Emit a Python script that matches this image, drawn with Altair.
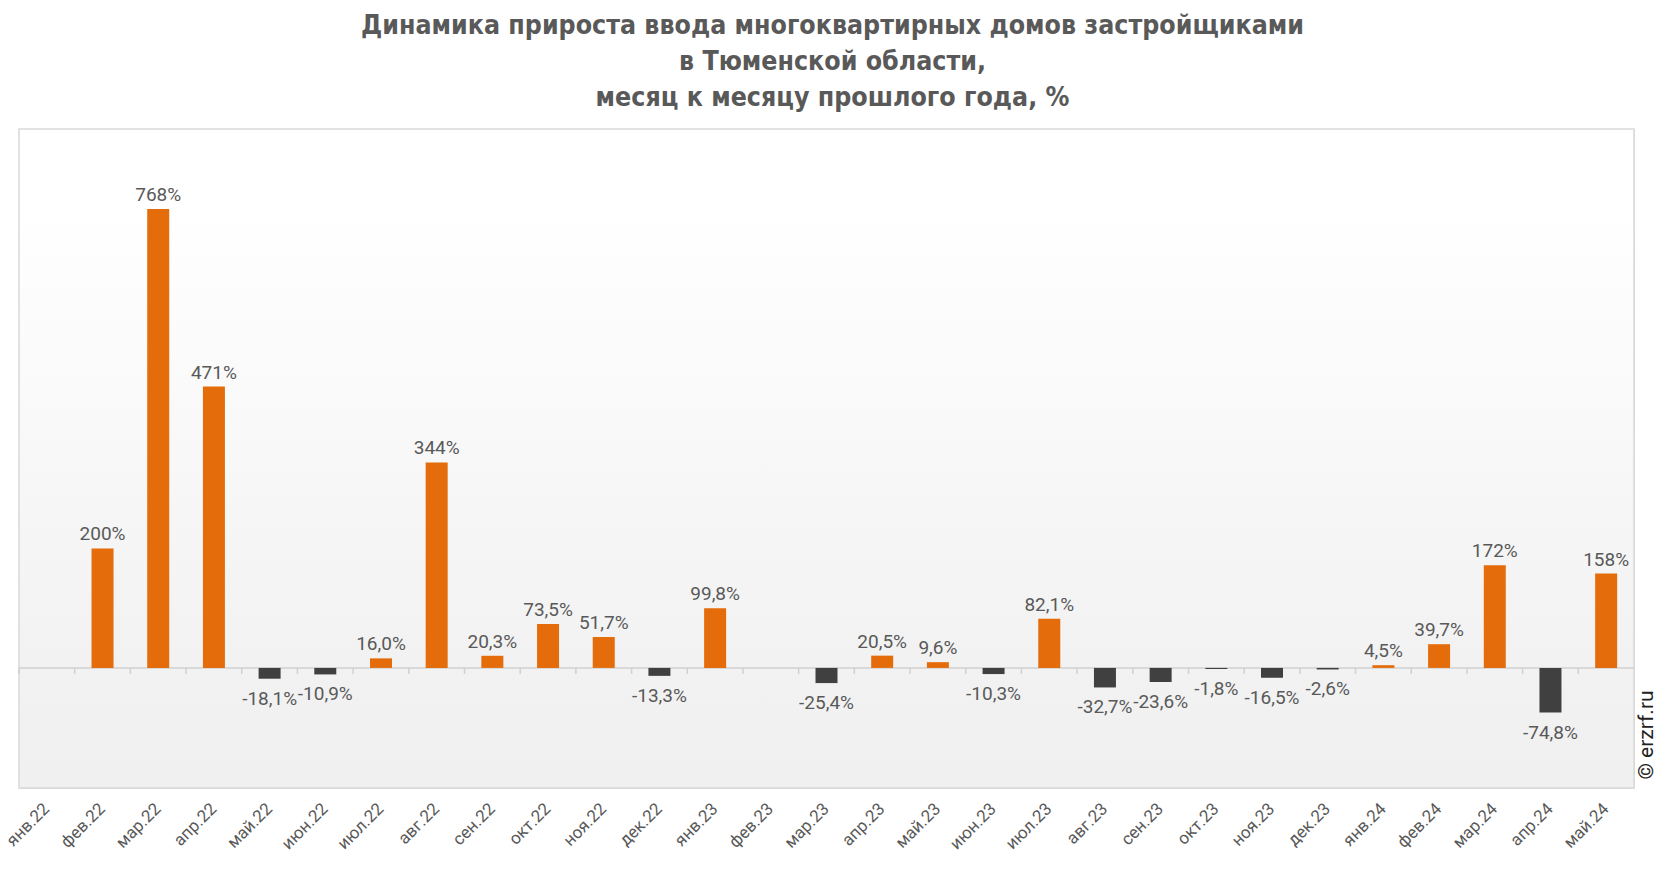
import altair as alt
import pandas as pd

months = ["янв.22", "фев.22", "мар.22", "апр.22", "май.22", "июн.22", "июл.22", "авг.22",
          "сен.22", "окт.22", "ноя.22", "дек.22", "янв.23", "фев.23", "мар.23", "апр.23",
          "май.23", "июн.23", "июл.23", "авг.23", "сен.23", "окт.23", "ноя.23", "дек.23",
          "янв.24", "фев.24", "мар.24", "апр.24", "май.24"]
values = [None, 200, 768, 471, -18.1, -10.9, 16.0, 344, 20.3, 73.5, 51.7, -13.3,
          99.8, None, -25.4, 20.5, 9.6, -10.3, 82.1, -32.7, -23.6, -1.8, -16.5, -2.6,
          4.5, 39.7, 172, -74.8, 158]

title_lines = ["Динамика прироста ввода многоквартирных домов застройщиками",
               "в Тюменской области,",
               "месяц к месяцу прошлого года, %"]


def fmt(v):
    if abs(v) >= 100:
        return f"{v:.0f}%"
    return f"{v:.1f}%".replace(".", ",")


rows = [{"m": m, "v": v, "lbl": fmt(v)}
        for m, v in zip(months, values) if v is not None]
df = pd.DataFrame(rows)
df_all = pd.DataFrame({"m": months, "z": [0] * len(months)})

W, H = 1615, 659
P_IN = 0.605
STEP = W / len(months)
ORANGE = "#E46C0A"
DARK = "#404040"
GREY = "#595959"
FONT = "Roboto"

xscale = alt.Scale(domain=months, paddingInner=P_IN, paddingOuter=P_IN / 2)
yscale = alt.Scale(domain=[-201, 902], nice=False, zero=False)

x_axis = alt.Axis(title=None, labelAngle=-45, labelAlign="right", labelBaseline="middle",
                  labelFontSize=17, labelColor=GREY, labelFont=FONT, domain=False,
                  ticks=False, labelPadding=18, grid=False)

bg = alt.Chart(pd.DataFrame({"a": [0]})).mark_rect(
    fill=alt.Gradient(gradient="linear", x1=0, x2=0, y1=0, y2=1,
                      stops=[alt.GradientStop(offset=0, color="#ffffff"),
                             alt.GradientStop(offset=0.12, color="#ffffff"),
                             alt.GradientStop(offset=0.8, color="#f2f2f2"),
                             alt.GradientStop(offset=1, color="#f0f0f0")]),
    stroke="#d9d9d9", strokeWidth=1.5
).encode(x=alt.value(0), x2=alt.value(W), y=alt.value(0), y2=alt.value(H))

base_x = alt.X("m:N", scale=xscale, sort=months, axis=x_axis)
base_y = alt.Y("v:Q", scale=yscale, axis=None)

zero = alt.Chart(pd.DataFrame({"z": [0]})).mark_rule(color="#d0d0d0", strokeWidth=1.5).encode(
    y=alt.Y("z:Q", scale=yscale, axis=None))

ticks = alt.Chart(df_all).mark_rule(color="#d0d0d0", strokeWidth=1.5, y2Offset=6,
                                    xOffset=-STEP * P_IN / 2).encode(
    x=alt.X("m:N", bandPosition=0, scale=xscale, sort=months, axis=x_axis),
    y=alt.Y("z:Q", scale=yscale, axis=None),
    y2="z:Q")

bars = alt.Chart(df).mark_bar().encode(
    x=base_x,
    y=base_y,
    y2=alt.datum(0),
    color=alt.condition("datum.v >= 0", alt.value(ORANGE), alt.value(DARK)))

lab_pos = alt.Chart(df).transform_filter("datum.v >= 0").mark_text(
    baseline="alphabetic", dy=-8, fontSize=19, color=GREY, font=FONT).encode(
    x=base_x, y=base_y, text="lbl:N")

lab_neg = alt.Chart(df).transform_filter("datum.v < 0").mark_text(
    baseline="alphabetic", dy=26, fontSize=19, color=GREY, font=FONT).encode(
    x=base_x, y=base_y, text="lbl:N")

mark = alt.Chart(pd.DataFrame({"t": ["© erzrf.ru"]})).mark_text(
    angle=270, fontSize=21, color="#222222", font=FONT, align="center", baseline="middle").encode(
    x=alt.value(W + 13), y=alt.value(606), text="t:N")

chart = alt.layer(bg, zero, ticks, bars, lab_pos, lab_neg, mark).properties(
    width=W, height=H,
    title=alt.TitleParams(title_lines, fontSize=26.5,
                          font="Liberation Sans Narrow, DejaVu Sans Condensed, Roboto",
                          fontWeight="bold", color=GREY, lineHeight=36, offset=17,
                          anchor="middle", dx=6),
    autosize=alt.AutoSizeParams(type="none"),
    padding={"left": 11, "top": 121, "right": 24, "bottom": 72},
).configure_view(stroke=None).configure(background="white")

chart.save("out.html", embed_options={"renderer": "svg", "actions": False})
